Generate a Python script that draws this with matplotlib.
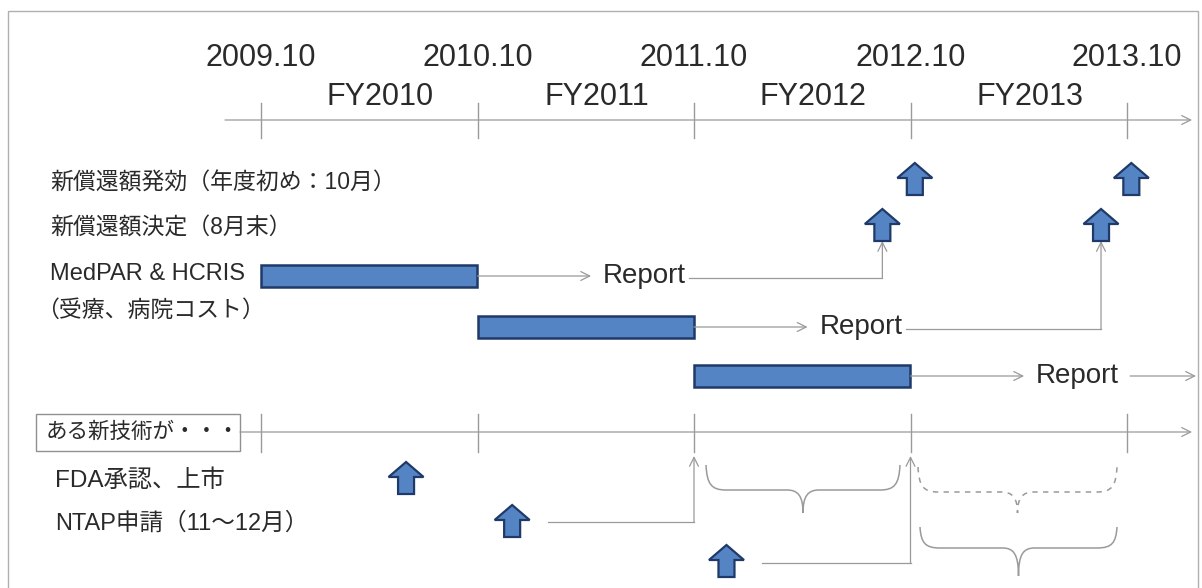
import matplotlib
matplotlib.use("Agg")
import matplotlib.pyplot as plt
from matplotlib.patches import Polygon, Rectangle, PathPatch
from matplotlib.path import Path

# ---------------- data ----------------
tick_labels = ["2009.10", "2010.10", "2011.10", "2012.10", "2013.10"]
tick_pos = [2009.75, 2010.75, 2011.75, 2012.75, 2013.75]
fy_labels = ["FY2010", "FY2011", "FY2012", "FY2013"]
fy_pos = [2010.30, 2011.30, 2012.30, 2013.30]
data_start = [2009.75, 2010.75, 2011.75]
data_end = [2010.75, 2011.75, 2012.75]
report_pos = [2011.33, 2012.33, 2013.33]
decision_pos = [2012.62, 2013.63]
effective_pos = [2012.77, 2013.77]
fda_pos = [2010.42]
ntap_pos = [2010.91, 2011.90]
row_labels = ["新償還額発効（年度初め：10月）", "新償還額決定（8月末）", "MedPAR & HCRIS",
              "（受療、病院コスト）"]
tech_labels = ["ある新技術が・・・", "FDA承認、上市", "NTAP申請（11～12月）"]

# ---------------- style ----------------
PX_PER_YEAR = 216.5
T0, P0 = 2009.75, 261.0
JP = ["Liberation Sans", "Noto Sans CJK JP", "DejaVu Sans"]
EN = ["Liberation Sans", "DejaVu Sans"]
TXT = "#2a2a2a"
LINE = "#9a9a9a"
BLUE = "#5584c4"
EDGE = "#1f3a68"


def px2t(p):
    return T0 + (p - P0) / PX_PER_YEAR


fig = plt.figure(figsize=(12.02, 5.88), dpi=100)
ax = fig.add_axes([0, 0, 1, 1])
ax.set_xlim(px2t(0), px2t(1202))
ax.set_ylim(588, 0)
ax.axis("off")
dx = 1.0 / PX_PER_YEAR  # one pixel in years

# frame
ax.add_patch(Rectangle((px2t(8), 11), 1190 * dx, 590, fill=False,
                       edgecolor="#b0b0b0", lw=1.0))


def block_arrow(t, ytop, w=35, h=32, head=15, shaft=16):
    cx = t
    hw, sw = w / 2 * dx, shaft / 2 * dx
    pts = [(cx, ytop), (cx + hw, ytop + head), (cx + sw, ytop + head),
           (cx + sw, ytop + h), (cx - sw, ytop + h), (cx - sw, ytop + head),
           (cx - hw, ytop + head)]
    ax.add_patch(Polygon(pts, closed=True, facecolor=BLUE, edgecolor=EDGE,
                         lw=1.6, joinstyle="miter", zorder=4))


def arrow_line(x0, y0, x1, y1, ls="-"):
    ax.annotate("", xy=(x1, y1), xytext=(x0, y0),
                arrowprops=dict(arrowstyle="->", color=LINE, lw=0.9,
                                linestyle=ls, mutation_scale=16,
                                shrinkA=0, shrinkB=0))


def brace(x0, x1, ytop, yh, ytip, ls="-"):
    xm = (x0 + x1) / 2
    hh = yh - ytop
    verts = [(x0, ytop), (x0 + 1 * dx, ytop + hh * 0.75), (x0 + 5 * dx, yh),
             (x0 + 20 * dx, yh),
             (xm - 16 * dx, yh),
             (xm - 5 * dx, yh), (xm, yh + 6), (xm, ytip),
             (xm, yh + 6), (xm + 5 * dx, yh), (xm + 16 * dx, yh),
             (x1 - 20 * dx, yh),
             (x1 - 5 * dx, yh), (x1 - 1 * dx, ytop + hh * 0.75), (x1, ytop)]
    codes = [Path.MOVETO, Path.CURVE4, Path.CURVE4, Path.CURVE4,
             Path.LINETO,
             Path.CURVE4, Path.CURVE4, Path.CURVE4,
             Path.CURVE4, Path.CURVE4, Path.CURVE4,
             Path.LINETO,
             Path.CURVE4, Path.CURVE4, Path.CURVE4]
    ax.add_patch(PathPatch(Path(verts, codes), fill=False, edgecolor=LINE,
                           lw=1.1, linestyle=ls))


# ---------------- top time axis ----------------
arrow_line(px2t(225), 120, px2t(1192), 120)
for t, lab in zip(tick_pos, tick_labels):
    ax.plot([t, t], [103, 138], color=LINE, lw=1.0)
    ax.text(t, 58, lab, ha="center", va="center", fontsize=22,
            family=EN, color=TXT)
for t, lab in zip(fy_pos, fy_labels):
    ax.text(t, 97, lab, ha="center", va="center", fontsize=22,
            family=EN, color=TXT)

# ---------------- row labels ----------------
label_y = [183, 228, 274, 310]
label_x = [50, 50, 50, 36]
label_fs = [16.5, 16.5, 17, 16.5]
for lab, lx, ly, fs in zip(row_labels, label_x, label_y, label_fs):
    ax.text(px2t(lx), ly, lab, ha="left", va="center", fontsize=fs,
            family=JP, color=TXT)

# effective / decision arrows
for t in effective_pos:
    block_arrow(t, 163)
for t in decision_pos:
    block_arrow(t, 209)

# ---------------- data bars with reports ----------------
bar_y = [276, 327, 376]
for i, (s, e, r, y) in enumerate(zip(data_start, data_end, report_pos, bar_y)):
    ax.add_patch(Rectangle((s, y - 11), e - s, 22, facecolor=BLUE,
                           edgecolor=EDGE, lw=1.8, zorder=3))
    arrow_line(e, y, r - 12 * dx, y)
    ax.text(r, y, "Report", ha="left", va="center", fontsize=20,
            family=EN, color=TXT)
    rend = r + 86 * dx
    if i < len(decision_pos):
        d = decision_pos[i]
        ax.plot([rend, d], [y + 2, y + 2], color=LINE, lw=0.9)
        arrow_line(d, y + 2, d, 241)
    else:
        arrow_line(rend + 8 * dx, y, px2t(1196), y)

# ---------------- new technology axis ----------------
ax.add_patch(Rectangle((px2t(36), 414), 204 * dx, 37, fill=False,
                       edgecolor="#909090", lw=1.0, zorder=3))
ax.text(px2t(46), 432, tech_labels[0], ha="left", va="center", fontsize=15.5,
        family=JP, color=TXT)
arrow_line(px2t(240), 432, px2t(1192), 432)
for t in tick_pos:
    ax.plot([t, t], [414, 452], color=LINE, lw=1.0)

ax.text(px2t(55), 481, tech_labels[1], ha="left", va="center", fontsize=17.5,
        family=JP, color=TXT)
ax.text(px2t(55), 523, tech_labels[2], ha="left", va="center", fontsize=17,
        family=JP, color=TXT)

for t in fda_pos:
    block_arrow(t, 462)

ntap_top = [505, 545]
ntap_line_y = [522, 563]
ntap_target = [tick_pos[2], tick_pos[3]]
for t, yt, yl, tg in zip(ntap_pos, ntap_top, ntap_line_y, ntap_target):
    block_arrow(t, yt)
    ax.plot([t + 36 * dx, tg], [yl, yl], color=LINE, lw=0.9)
    arrow_line(tg, yl, tg, 456)

# braces
brace(px2t(706), px2t(900), 465, 490, 513)
brace(px2t(918), px2t(1117), 467, 492, 513, ls=(0, (3.5, 3.5)))
brace(px2t(920), px2t(1117), 527, 548, 576)

fig.savefig("out.png", dpi=100)
